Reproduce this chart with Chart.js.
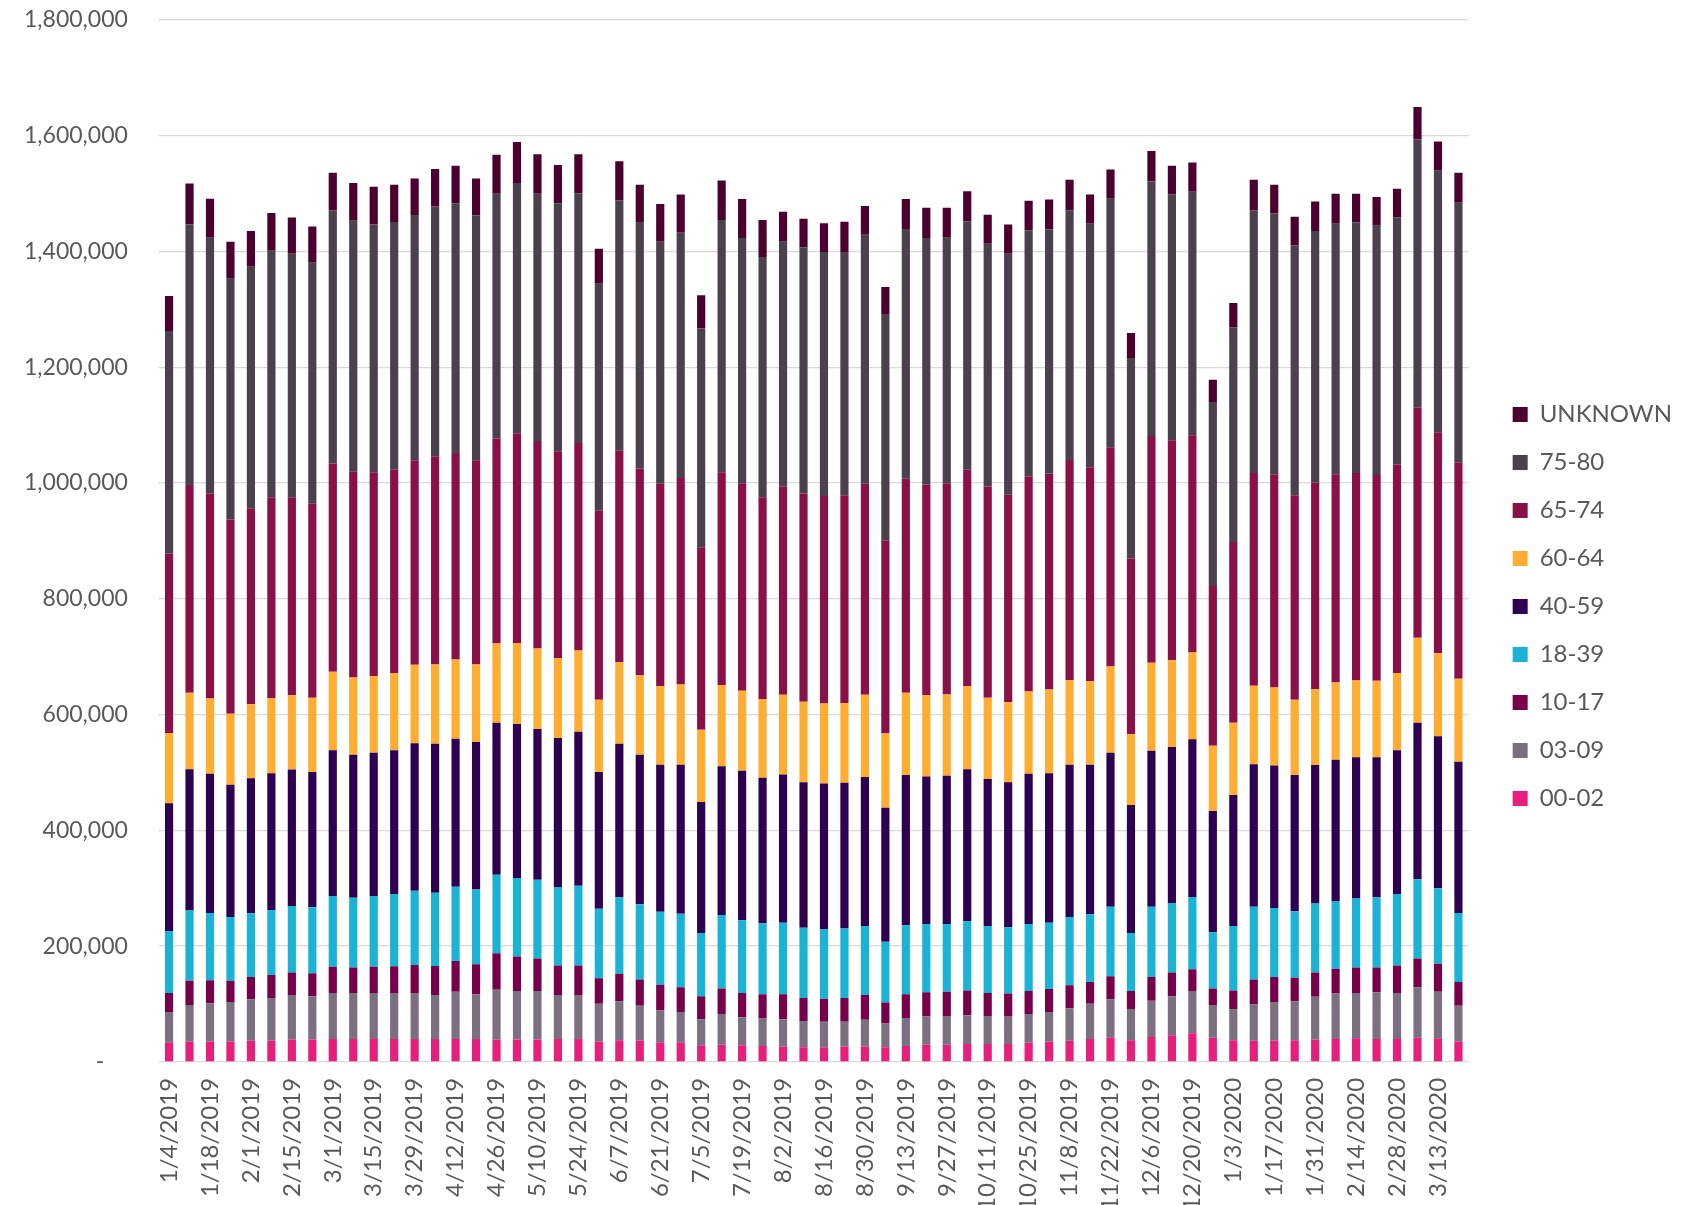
<!DOCTYPE html>
<html lang="en">
<head>
  <meta charset="UTF-8" />
  <title>Weekly volume by age group</title>
  <script src="https://cdn.jsdelivr.net/npm/chart.js"></script>
  <style>
    html, body { margin: 0; padding: 0; background: #ffffff; }
    #wrap { width: 1683px; height: 1205px; }
  </style>
</head>
<body>
  <div id="wrap">
    <canvas id="myChart" width="1683" height="1205"></canvas>
  </div>

  <script>
    // week ending dates
    const weeks = [
      "1/4/2019", "1/11/2019", "1/18/2019", "1/25/2019", "2/1/2019", "2/8/2019", "2/15/2019", "2/22/2019",
      "3/1/2019", "3/8/2019", "3/15/2019", "3/22/2019", "3/29/2019", "4/5/2019", "4/12/2019", "4/19/2019",
      "4/26/2019", "5/3/2019", "5/10/2019", "5/17/2019", "5/24/2019", "5/31/2019", "6/7/2019", "6/14/2019",
      "6/21/2019", "6/28/2019", "7/5/2019", "7/12/2019", "7/19/2019", "7/26/2019", "8/2/2019", "8/9/2019",
      "8/16/2019", "8/23/2019", "8/30/2019", "9/6/2019", "9/13/2019", "9/20/2019", "9/27/2019", "10/4/2019",
      "10/11/2019", "10/18/2019", "10/25/2019", "11/1/2019", "11/8/2019", "11/15/2019", "11/22/2019", "11/29/2019",
      "12/6/2019", "12/13/2019", "12/20/2019", "12/27/2019", "1/3/2020", "1/10/2020", "1/17/2020", "1/24/2020",
      "1/31/2020", "2/7/2020", "2/14/2020", "2/21/2020", "2/28/2020", "3/6/2020", "3/13/2020", "3/20/2020"
    ];

    const age00_02 = [
      34200, 35300, 35300, 35300, 36400, 36400, 38600, 38600, 39700, 39700, 39700, 39700, 39700, 39700, 39700, 39700,
      38600, 38600, 38600, 39700, 39700, 35300, 37500, 36400, 34200, 34200, 28700, 29800, 28700, 27600, 26500, 25400,
      25400, 26500, 26500, 25400, 27600, 29800, 29800, 30900, 30900, 30900, 33100, 35300, 36400, 39700, 41900, 37500,
      43000, 46300, 49700, 41900, 37500, 36400, 36400, 37500, 38600, 39700, 40800, 39700, 39700, 41900, 40800, 35300
    ];
    const age03_09 = [
      51900, 62900, 66200, 68400, 71700, 73900, 77200, 75000, 79400, 79400, 79400, 79400, 79400, 76100, 81700, 77200,
      86100, 83900, 83900, 76100, 76100, 65100, 67300, 60700, 55200, 51900, 45200, 53000, 48500, 47400, 47400, 45200,
      44100, 43000, 46300, 40800, 48500, 48500, 49700, 49700, 48500, 48500, 49700, 50800, 56300, 60700, 66200, 54100,
      62900, 67300, 72800, 56300, 53000, 62900, 67300, 67300, 73900, 78300, 78300, 80500, 79400, 87200, 80500, 61800
    ];
    const age10_17 = [
      33100, 41900, 39700, 36400, 38600, 39700, 38600, 39700, 45200, 44100, 45200, 46300, 48500, 49700, 53000, 51900,
      62900, 59600, 56300, 50800, 50800, 44100, 47400, 45200, 44100, 43000, 39700, 44100, 41900, 41900, 43000, 39700,
      39700, 40800, 43000, 36400, 40800, 41900, 41900, 43000, 39700, 38600, 39700, 39700, 39700, 37500, 39700, 30900,
      40800, 40800, 37500, 28700, 33100, 43000, 43000, 40800, 41900, 43000, 44100, 43000, 47400, 49700, 48500, 40800
    ];
    const age18_39 = [
      107000, 121400, 115900, 110300, 110300, 112500, 114800, 113700, 122500, 120300, 122500, 124700, 128000, 126900, 128000, 129100,
      135700, 135700, 135700, 134600, 137900, 120300, 132400, 130200, 125800, 126900, 109200, 126900, 125800, 122500, 123600, 121400,
      120300, 120300, 119200, 104800, 119200, 118100, 117000, 119200, 115900, 114800, 115900, 114800, 118100, 117000, 120300, 100400,
      121400, 120300, 124700, 97100, 111400, 125800, 119200, 114800, 119200, 117000, 119200, 121400, 123600, 136800, 130200, 119200
    ];
    const age40_59 = [
      220700, 243900, 240500, 228400, 232800, 236100, 236100, 233900, 251600, 247200, 247200, 248300, 254900, 257100, 256000, 254900,
      262600, 265900, 260400, 258200, 265900, 236100, 264800, 258200, 253800, 257100, 226200, 257100, 258200, 251600, 256000, 251600,
      251600, 251600, 257100, 231700, 259300, 254900, 256000, 262600, 253800, 250500, 259300, 258200, 262600, 258200, 265900, 220700,
      269200, 269200, 272500, 209600, 226200, 246100, 246100, 235000, 239400, 243900, 243900, 241600, 248300, 270300, 262600, 261500
    ];
    const age60_64 = [
      121400, 132400, 130200, 122500, 128000, 130200, 128000, 128000, 135700, 133500, 132400, 133500, 135700, 136800, 136800, 133500,
      136800, 140100, 139000, 137900, 140100, 124700, 141200, 136800, 135700, 139000, 124700, 140100, 137900, 135700, 137900, 139000,
      137900, 137900, 142300, 128000, 142300, 140100, 140100, 143400, 140100, 137900, 142300, 144500, 146800, 144500, 149000, 122500,
      152300, 150100, 150100, 112500, 124700, 135700, 134600, 130200, 131300, 133500, 132400, 132400, 133500, 146800, 143400, 143400
    ];
    const age65_74 = [
      310000, 358600, 354200, 335400, 337600, 346500, 342100, 335400, 359700, 355300, 352000, 350900, 353100, 359700, 356400, 353100,
      354200, 361900, 358600, 357500, 358600, 326600, 365200, 357500, 349800, 356400, 314500, 367400, 358600, 348700, 359700, 359700,
      358600, 358600, 364100, 333200, 369600, 364100, 365200, 374100, 365200, 358600, 370700, 372900, 379600, 369600, 378500, 303400,
      391700, 379600, 375200, 275900, 312300, 367400, 368500, 353100, 356400, 359700, 358600, 355300, 359700, 397200, 381800, 372900
    ];
    const age75_80 = [
      384000, 450200, 441400, 416000, 418200, 425900, 420400, 416000, 436900, 433600, 428100, 428100, 423700, 431400, 431400, 422600,
      422600, 432500, 427000, 428100, 431400, 391700, 432500, 425900, 418200, 423700, 378500, 435800, 423700, 414900, 422600, 424800,
      421500, 420400, 430300, 391700, 431400, 425900, 423700, 429200, 419300, 416000, 425900, 421500, 431400, 420400, 429200, 346500,
      439200, 424800, 420400, 317800, 370700, 453500, 450200, 431400, 434700, 432500, 432500, 430300, 427000, 463400, 451300, 449100
    ];
    const unknown = [
      60700, 70600, 67300, 64000, 61800, 65100, 62900, 62900, 65100, 65100, 65100, 64000, 62900, 65100, 65100, 64000,
      67300, 70600, 68400, 66200, 67300, 60700, 67300, 64000, 65100, 66200, 57400, 68400, 67300, 64000, 51900, 49700,
      49700, 51900, 49700, 46300, 51900, 51900, 51900, 51900, 49700, 50800, 50800, 51900, 53000, 50800, 50800, 43000,
      53000, 49700, 50800, 38600, 41900, 53000, 49700, 49700, 50800, 51900, 49700, 49700, 49700, 56300, 50800, 51900
    ];

    const yTicks = [0, 200000, 400000, 600000, 800000, 1000000, 1200000, 1400000, 1600000, 1800000];

    const textColor = "#595959";
    const fontFamily = "Lato, 'Open Sans', sans-serif";

    // bottom to top of each stack
    const series = [
      { label: "00-02", data: age00_02, color: "#E61E7C" },
      { label: "03-09", data: age03_09, color: "#7B6F82" },
      { label: "10-17", data: age10_17, color: "#76004A" },
      { label: "18-39", data: age18_39, color: "#1AB3D6" },
      { label: "40-59", data: age40_59, color: "#2E0052" },
      { label: "60-64", data: age60_64, color: "#FFAD32" },
      { label: "65-74", data: age65_74, color: "#8A1049" },
      { label: "75-80", data: age75_80, color: "#4A414C" },
      { label: "UNKNOWN", data: unknown, color: "#4C0030" }
    ];

    // push the legend a bit away from the plot
    const legendGap = {
      id: "legendGap",
      afterLayout(chart) {
        chart.legend.left += 20;
        chart.legend.right += 20;
      }
    };

    const ctx = document.getElementById("myChart").getContext("2d");
    const myChart = new Chart(ctx, {
      type: "bar",
      data: {
        labels: weeks,
        datasets: series.map((s) => ({
          label: s.label,
          data: s.data,
          backgroundColor: s.color,
          borderWidth: 0,
          categoryPercentage: 1,
          barPercentage: 0.4
        }))
      },
      plugins: [legendGap],
      options: {
        responsive: false,
        animation: false,
        layout: {
          padding: { top: 8, left: 18, right: 21, bottom: 0 }
        },
        plugins: {
          tooltip: { enabled: false },
          legend: {
            position: "right",
            reverse: true,
            labels: {
              boxWidth: 15,
              boxHeight: 15,
              padding: 24,
              color: textColor,
              font: { family: fontFamily, size: 24 }
            }
          }
        },
        scales: {
          x: {
            stacked: true,
            grid: { display: false, drawTicks: false },
            border: { display: false },
            // labels hang below the axis, the space under them is not needed
            afterFit: (axis) => {
              axis.height -= 22;
            },
            ticks: {
              autoSkip: false,
              maxRotation: 90,
              minRotation: 90,
              padding: 16,
              color: textColor,
              font: { family: fontFamily, size: 24 },
              callback: function (val, idx) {
                return idx % 2 === 0 ? this.getLabelForValue(val) : "";
              }
            }
          },
          y: {
            stacked: true,
            min: yTicks[0],
            max: yTicks[yTicks.length - 1],
            afterBuildTicks: (axis) => {
              axis.ticks = yTicks.map((v) => ({ value: v }));
            },
            grid: { color: "#d9d9d9", lineWidth: 1.3, drawTicks: true, tickLength: 25, tickColor: "rgba(0,0,0,0)" },
            border: { display: false },
            ticks: {
              padding: 6,
              color: textColor,
              font: { family: fontFamily, size: 23 },
              callback: (v) => (v === 0 ? "-    " : v.toLocaleString("en-US"))
            }
          }
        }
      }
    });
  </script>
</body>
</html>
